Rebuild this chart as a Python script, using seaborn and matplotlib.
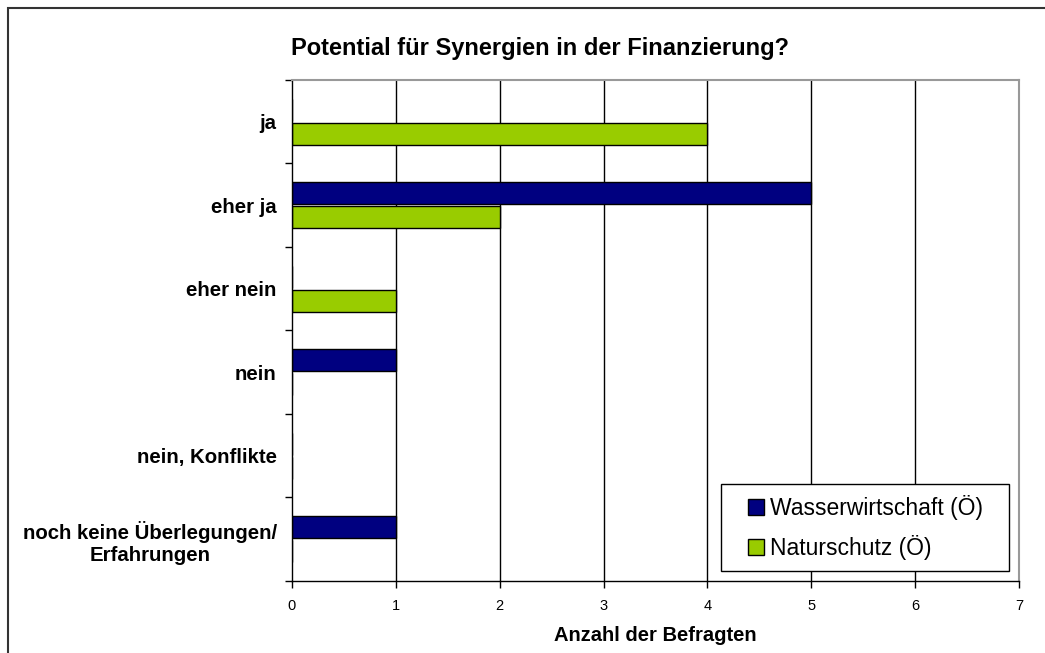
import numpy as np
import pandas as pd
import seaborn as sns
from matplotlib import pyplot as plt
from matplotlib.patches import Rectangle, Patch

# answers (top to bottom) and counts per group
kategorien = ["ja", "eher ja", "eher nein", "nein", "nein, Konflikte",
              "noch keine Überlegungen/\nErfahrungen"]
wasser = [0, 5, 0, 1, 0, 1]
natur = [4, 2, 1, 0, 0, 0]
gruppen = ["Wasserwirtschaft (Ö)", "Naturschutz (Ö)"]
farben = ["#000080", "#99CC00"]

df = pd.DataFrame({
    "Antwort": kategorien * 2,
    "Anzahl": wasser + natur,
    "Gruppe": [gruppen[0]] * len(kategorien) + [gruppen[1]] * len(kategorien),
})

sns.set_style("white")
plt.rcParams["font.family"] = ["Liberation Sans", "DejaVu Sans"]
plt.rcParams["text.color"] = "black"
plt.rcParams["axes.labelcolor"] = "black"
plt.rcParams["xtick.color"] = "black"
plt.rcParams["ytick.color"] = "black"

fig = plt.figure(figsize=(10.45, 6.53), dpi=100)
ax = fig.add_axes([0.2794, 0.1103, 0.6957, 0.7672])

sns.barplot(data=df, x="Anzahl", y="Antwort", hue="Gruppe", order=kategorien,
            hue_order=gruppen, palette=farben, orient="h", width=0.575,
            edgecolor="black", linewidth=1, saturation=1, ax=ax, legend=False)

# leave a thin white gap between the two bars of a category
for p in ax.patches:
    h = p.get_height()
    c = p.get_y() + h / 2
    p.set_height(0.265)
    p.set_y(c - 0.265 / 2)

ax.set_xlim(0, 7)
ax.set_ylim(5.5, -0.5)
ax.vlines(np.arange(1, 7), -0.5, 5.5, color="black", lw=1, zorder=0)

ax.set_xticks(np.arange(0, 8))
ax.tick_params(axis="x", direction="out", length=5, width=1, color="black",
               labelsize=10.5, pad=8, bottom=True)
ax.set_yticks(np.arange(-0.5, 6, 1), minor=True)
ax.tick_params(axis="y", which="minor", direction="out", length=5, width=1,
               color="black", left=True)
ax.tick_params(axis="y", which="major", length=0, pad=11)
for lab in ax.get_yticklabels():
    lab.set_fontweight("bold")
    lab.set_fontsize(14.7)
    lab.set_multialignment("center")
    lab.set_linespacing(1.2)

for s in ["left", "bottom"]:
    ax.spines[s].set_color("black")
    ax.spines[s].set_linewidth(1)
for s in ["top", "right"]:
    ax.spines[s].set_color("#999999")
    ax.spines[s].set_linewidth(1.5)

ax.set_ylabel("")
ax.set_xlabel("Anzahl der Befragten", fontsize=14.5, fontweight="bold", labelpad=9)
fig.text(0.517, 0.926, "Potential für Synergien in der Finanzierung?",
         ha="center", va="center", fontsize=17, fontweight="bold")

# legend: entries without frame, box drawn separately (wider side padding)
handles = [Patch(facecolor=f, edgecolor="black", lw=1) for f in farben]
leg = ax.legend(handles, gruppen, loc="center left",
                bbox_to_anchor=(0.7158, 0.1922), bbox_transform=fig.transFigure,
                fontsize=16.5, frameon=False, handlelength=0.7,
                handleheight=0.7, handletextpad=0.26, borderpad=0,
                labelspacing=0.66, borderaxespad=0)
leg.set_zorder(6)
kasten = Rectangle((0.690, 0.1256), 0.2756, 0.1332, transform=fig.transFigure,
                   facecolor="white", edgecolor="black", lw=1, zorder=5,
                   clip_on=False)
ax.add_artist(kasten)

# outer chart border (runs off the right and bottom)
fig.patches.append(Rectangle((8 / 1045, -0.1), 1.2, 1.1 - 8 / 653,
                             transform=fig.transFigure, fill=False,
                             edgecolor="#333333", lw=1.5))

plt.savefig("out.png", dpi=100)
